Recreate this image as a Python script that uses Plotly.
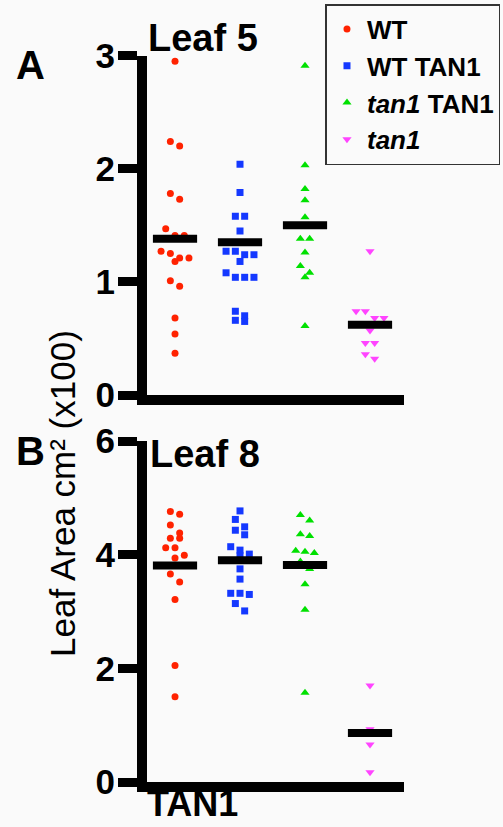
import numpy as np
import plotly.graph_objects as go

# ---------------- data ----------------
groups = ["WT", "WT TAN1", "tan1 TAN1", "tan1"]
legend_names = ["<b>WT</b>", "<b>WT TAN1</b>", "<b><i>tan1</i> TAN1</b>", "<b><i>tan1</i></b>"]

leaf5_wt = [2.95, 2.24, 2.20, 1.78, 1.73, 1.47, 1.41, 1.41, 1.27, 1.25, 1.21, 1.21,
            1.18, 1.01, 0.96, 0.68, 0.54, 0.37]
leaf5_wt_tan1 = [2.04, 1.79, 1.58, 1.58, 1.45, 1.27, 1.27, 1.24, 1.24, 1.18, 1.08,
                 1.04, 1.04, 1.04, 0.74, 0.70, 0.66, 0.65]
leaf5_tan1_tan1 = [2.91, 2.03, 1.82, 1.72, 1.57, 1.38, 1.38, 1.26, 1.14, 1.08, 1.04, 0.61]
leaf5_tan1 = [1.27, 0.74, 0.74, 0.68, 0.68, 0.57, 0.46, 0.46, 0.36, 0.32]
leaf5_means = [1.38, 1.35, 1.50, 0.62]

leaf8_wt = [4.76, 4.71, 4.52, 4.38, 4.29, 4.29, 4.12, 4.12, 3.99, 3.94, 3.66, 3.52,
            3.21, 2.05, 1.50]
leaf8_wt_tan1 = [4.77, 4.62, 4.49, 4.43, 4.35, 4.14, 4.08, 4.01, 3.98, 3.75, 3.57,
                 3.32, 3.32, 3.30, 3.14, 3.01]
leaf8_tan1_tan1 = [4.70, 4.60, 4.36, 4.33, 4.07, 4.05, 4.03, 3.88, 3.75, 3.48, 3.03, 1.57]
leaf8_tan1 = [1.70, 0.93, 0.66, 0.17]
leaf8_means = [3.81, 3.90, 3.82, 0.86]

leaf5_ticks = [0, 1, 2, 3]
leaf8_ticks = [0, 2, 4, 6]
panel_titles = ["Leaf 5", "Leaf 8"]
panel_letters = ["A", "B"]
y_title = "Leaf Area cm\u00b2 (x100)"
x_label = "TAN1"

# ---------------- styling ----------------
W, H = 503, 827
colors = ["#ff2200", "#1438ff", "#00e000", "#ff44ff"]
symbols = ["circle", "square", "triangle-up", "triangle-down"]
sizes = [7, 7, 8, 8]
FONT = "Liberation Sans, Arial, Helvetica, sans-serif"
BG = "#fafafa"

x_dom = [147 / W, 404 / W]
x_rng = [-0.431, 3.523]
top_dom = [1 - 395 / H, 1 - 55.5 / H]
bot_dom = [1 - 782 / H, 1 - 441 / H]
px_per_x = (x_dom[1] - x_dom[0]) * W / (x_rng[1] - x_rng[0])


def swarm(values, px_per_unit, thresh=8.0, step=9.3):
    vals = np.asarray(values, float)
    order = np.argsort(-vals, kind="stable")
    offs = np.zeros(len(vals))
    rows, cur = [], []
    for idx in order:
        if cur and (vals[cur[0]] - vals[idx]) * px_per_unit > thresh:
            rows.append(cur)
            cur = []
        cur.append(idx)
    if cur:
        rows.append(cur)
    for row in rows:
        n = len(row)
        for k, idx in enumerate(row):
            offs[idx] = (k - (n - 1) / 2) * step / px_per_x
    return offs


fig = go.Figure()

panels = [
    (
        [leaf5_wt, leaf5_wt_tan1, leaf5_tan1_tan1, leaf5_tan1],
        leaf5_means, leaf5_ticks, top_dom, "x", "y",
    ),
    (
        [leaf8_wt, leaf8_wt_tan1, leaf8_tan1_tan1, leaf8_tan1],
        leaf8_means, leaf8_ticks, bot_dom, "x2", "y2",
    ),
]

for p, (series, means, ticks, dom, xa, ya) in enumerate(panels):
    ppu = (dom[1] - dom[0]) * H / (ticks[-1] - ticks[0])
    for i, vals in enumerate(series):
        offs = swarm(vals, ppu)
        fig.add_trace(go.Scatter(
            x=i + offs, y=vals, mode="markers", xaxis=xa, yaxis=ya,
            name=legend_names[i], showlegend=(p == 0),
            marker=dict(symbol=symbols[i], color=colors[i], size=sizes[i], line=dict(width=0)),
        ))
    for i, m in enumerate(means):
        fig.add_trace(go.Scatter(
            x=[i - 0.34, i + 0.34], y=[m, m], mode="lines", xaxis=xa, yaxis=ya,
            showlegend=False, line=dict(color="black", width=8),
        ))

axis_common = dict(showgrid=False, zeroline=False, showline=True, linecolor="black",
                   linewidth=10, automargin=False)
ytick_common = dict(ticks="outside", ticklen=19, tickwidth=9, tickcolor="black",
                    tickfont=dict(size=35, weight="bold"), ticklabelstandoff=-4)
fig.update_layout(
    width=W, height=H, margin=dict(l=0, r=0, t=0, b=0, autoexpand=False),
    paper_bgcolor=BG, plot_bgcolor=BG,
    font=dict(family=FONT, color="black"),
    xaxis=dict(domain=x_dom, range=x_rng, anchor="y", showticklabels=False, ticks="",
               **axis_common),
    xaxis2=dict(domain=x_dom, range=x_rng, anchor="y2", showticklabels=False, ticks="",
                **axis_common),
    yaxis=dict(domain=top_dom, range=[leaf5_ticks[0], leaf5_ticks[-1]], anchor="x",
               tickvals=leaf5_ticks, **ytick_common, **axis_common),
    yaxis2=dict(domain=bot_dom, range=[leaf8_ticks[0], leaf8_ticks[-1]], anchor="x2",
                tickvals=leaf8_ticks, **ytick_common, **axis_common),
    legend=dict(x=0.995, xanchor="right", y=1 - 4 / H, yanchor="top",
                bordercolor="#333333", borderwidth=1.5, bgcolor="rgba(0,0,0,0)",
                font=dict(size=26, weight="bold"), itemsizing="trace",
                entrywidth=146, entrywidthmode="pixels"),
    showlegend=True,
)

def note(text, x, y, size, bold=True, xanchor="center", yanchor="middle", angle=0):
    return dict(text=text, x=x / W, y=1 - y / H, xref="paper", yref="paper",
                xanchor=xanchor, yanchor=yanchor, textangle=angle, showarrow=False,
                font=dict(size=size, weight="bold" if bold else "normal"))

ann = [
    note(panel_letters[0], 30, 65, 40),
    note(panel_letters[1], 30, 451, 40),
    note(panel_titles[0], 146, 38, 38, xanchor="left"),
    note(panel_titles[1], 148, 454, 38, xanchor="left"),
    note(x_label, 145, 826, 36, xanchor="left", yanchor="bottom"),
    note(y_title, 62, 494, 35, bold=False, angle=-90),
]
fig.update_layout(annotations=ann)

fig.write_html("out.html", config={"displayModeBar": False},
               post_script="document.body.style.margin='0';")
